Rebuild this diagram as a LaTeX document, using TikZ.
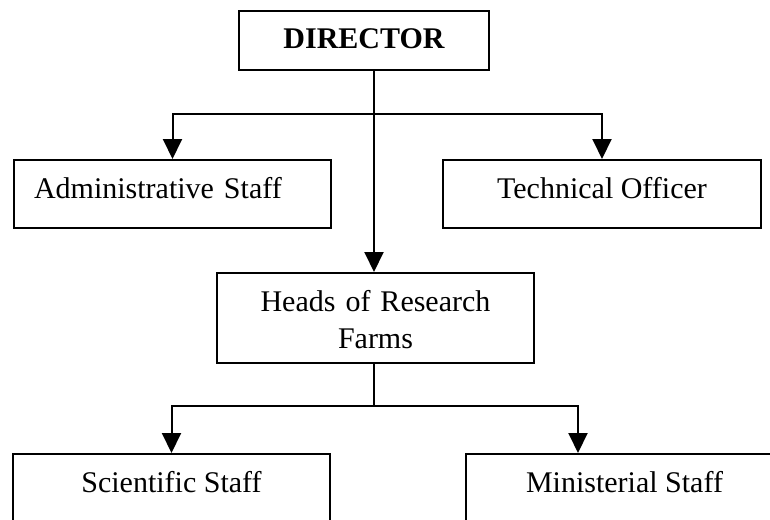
\documentclass[tikz,border=0pt]{standalone}
\usepackage{fontspec}
\setmainfont{Liberation Serif}
\usepackage{tikz}
\usetikzlibrary{positioning,arrows.meta}

\begin{document}
\begin{tikzpicture}[x=0.5pt, y=-0.5pt,
    box/.style={draw, line width=1pt, inner xsep=0pt, inner ysep=0pt,
                minimum width=158.5pt, text height=19pt, text depth=15pt,
                font=\fontsize{15}{18.5}\selectfont},
    arr/.style={line width=1pt, -{Triangle[length=10pt, width=9.5pt]}},
    link/.style={line width=1pt}]

  % Frame
  \useasboundingbox (0,0) rectangle (770,519);

  % Boxes
  \node[box, anchor=north west, minimum width=125pt, text depth=10.5pt,
        font=\fontsize{15}{18.5}\selectfont\bfseries] (dir) at (238,10) {DIRECTOR};
  \node[box, anchor=north west, minimum width=0pt, text width=138.5pt,
        inner xsep=10pt, align=left] (admin) at (13,159) {Administrative Staff};
  \node[box, anchor=north west, minimum width=159pt] (tech) at (442,159) {Technical Officer};
  \node[box, anchor=north west, text width=158.5pt, align=center,
        text depth=26pt] (heads) at (216,272) {Heads of Research\\Farms};
  \begin{scope}
    \clip (0,0) rectangle (770,519);
    \node[box, anchor=north west] (sci) at (12,453) {Scientific Staff};
    \node[box, anchor=north west] (mini) at (465,453) {Ministerial Staff};
  \end{scope}

  % Connectors
  \coordinate (dirout) at (374,0 |- dir.south);
  \coordinate (headsin) at (dirout |- heads.north);
  \coordinate (headsout) at (dirout |- heads.south);
  \coordinate (split1) at (dirout |- 0,114);
  \coordinate (split2) at (dirout |- 0,406);
  \coordinate (miniin) at ([xshift=56.5pt]mini.north west);
  \draw[arr] (dirout) -- (headsin);
  \draw[arr] (split1) -| (admin.north);
  \draw[arr] (split1) -| (tech.north);
  \draw[link] (headsout) -- (split2);
  \draw[arr] (split2) -| (sci.north);
  \draw[arr] (split2) -| (miniin);

\end{tikzpicture}
\end{document}
